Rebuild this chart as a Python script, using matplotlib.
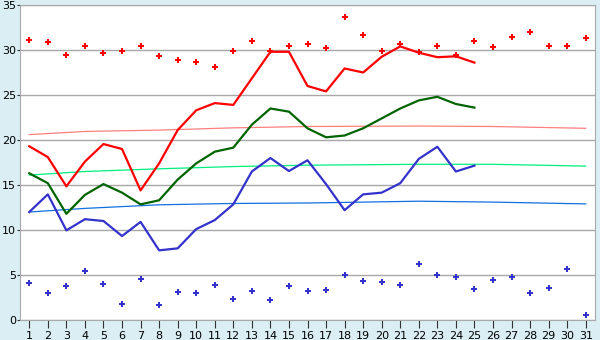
import matplotlib
matplotlib.use("Agg")
import matplotlib.pyplot as plt

# daily values, days 1..31
days = list(range(1, 32))

max_points = [31.1, 30.85, 29.5, 30.4, 29.7, 29.9, 30.4, 29.3, 28.85, 28.7,
              28.1, 29.85, 30.95, 29.85, 30.45, 30.65, 30.2, 33.7, 31.7, 29.85,
              30.65, 29.8, 30.4, 29.4, 31.05, 30.3, 31.4, 31.95, 30.5, 30.4, 31.3]
min_points = [4.07, 2.96, 3.81, 5.4, 3.96, 1.74, 4.52, 1.63, 3.07, 2.96,
              3.85, 2.3, 3.18, 2.19, 3.74, 3.18, 3.33, 4.96, 4.3, 4.19,
              3.85, 6.19, 4.96, 4.74, 3.41, 4.41, 4.74, 2.96, 3.52, 5.63, 0.52]

line_days = list(range(1, 26))
max_line = [19.3, 18.1, 14.85, 17.6, 19.55, 19.0, 14.4, 17.4, 21.1, 23.3,
            24.1, 23.9, 26.85, 29.8, 29.8, 26.0, 25.4, 27.95, 27.5, 29.25,
            30.4, 29.7, 29.2, 29.3, 28.6]
mean_line = [16.3, 15.2, 11.8, 13.9, 15.1, 14.15, 12.85, 13.3, 15.6, 17.4,
             18.7, 19.15, 21.7, 23.5, 23.15, 21.3, 20.3, 20.5, 21.3, 22.4,
             23.5, 24.4, 24.8, 24.0, 23.6]
min_line = [12.0, 13.96, 9.96, 11.2, 11.0, 9.33, 10.9, 7.74, 7.96, 10.1,
            11.1, 12.85, 16.5, 18.0, 16.55, 17.75, 15.1, 12.2, 13.96, 14.15,
            15.2, 17.9, 19.25, 16.5, 17.15]

# long-term normals
trend_days = [1, 4, 8, 12, 16, 22, 26, 31]
max_normal = [20.6, 20.95, 21.1, 21.35, 21.5, 21.55, 21.5, 21.3]
mean_normal = [16.1, 16.5, 16.8, 17.05, 17.2, 17.3, 17.3, 17.1]
min_normal = [12.0, 12.4, 12.8, 12.95, 13.0, 13.2, 13.1, 12.9]

fig = plt.figure(figsize=(6, 3.4), dpi=100)
fig.patch.set_facecolor("#DAEEF4")
ax = fig.add_axes([20 / 600, 20 / 340, 575 / 600, 315 / 340])
ax.set_facecolor("white")

ax.plot(trend_days, max_normal, color="#FF7F7F", lw=0.9)
ax.plot(trend_days, mean_normal, color="#00F080", lw=0.9)
ax.plot(trend_days, min_normal, color="#1070E0", lw=0.9)

ax.plot(line_days, max_line, color="#FF0000", lw=1.6)
ax.plot(line_days, mean_line, color="#006400", lw=1.6)
ax.plot(line_days, min_line, color="#3333CC", lw=1.6)

ax.plot(days, max_points, ls="none", marker="P", ms=4.5, color="#FF0000", mew=0)
ax.plot(days, min_points, ls="none", marker="P", ms=4.5, color="#3333CC", mew=0)

ax.set_xlim(0.5, 31.5)
ax.set_ylim(0, 35)
ax.set_xticks(days)
ax.set_yticks(range(0, 36, 5))
ax.yaxis.grid(True, color="#A8A8A8", lw=1)
ax.set_axisbelow(True)

for side in ["left", "bottom", "right", "top"]:
    ax.spines[side].set_color("#A8A8A8")
ax.tick_params(axis="x", length=6, color="#333333", labelsize=8, pad=2)
ax.tick_params(axis="y", length=2, color="#333333", labelsize=8, pad=1)

fig.savefig("out.png", dpi=100, facecolor=fig.get_facecolor())
